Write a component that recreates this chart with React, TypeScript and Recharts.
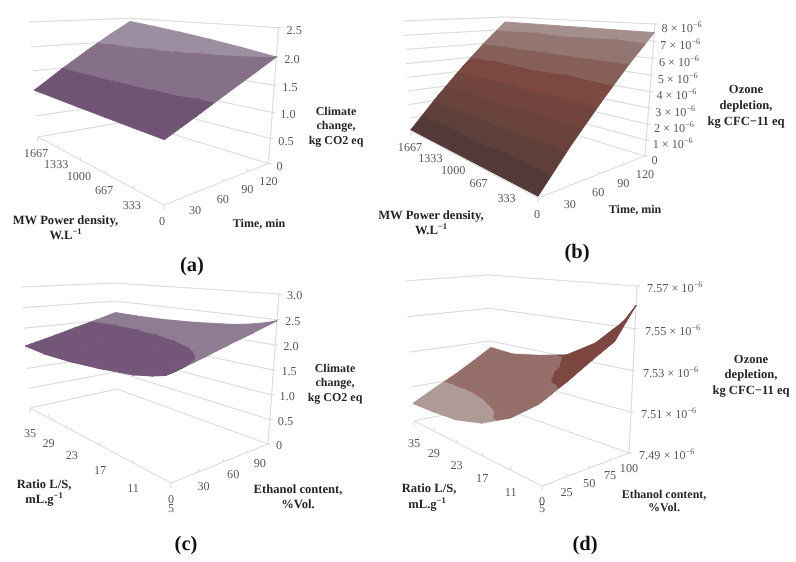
import { ComposedChart, Area, Line, Scatter, XAxis, YAxis } from "recharts";

type Pt = [number, number];

// panel (a) climate change vs time and MW power density
const timeLabels = [0, 30, 60, 90, 120];
const powerLabels = [0, 333, 667, 1000, 1333, 1667];
const climateTicksA = [0, 0.5, 1, 1.5, 2, 2.5];
const surfaceATime = [0, 30, 60, 90, 120];
const surfaceAPower = [0, 333, 667, 1000, 1333, 1667];
const surfaceAValues = [
  [1.13, 1.36, 1.59, 1.8, 2.0],
  [1.118, 1.389, 1.65, 1.886, 2.103],
  [1.107, 1.415, 1.705, 1.966, 2.198],
  [1.097, 1.439, 1.755, 2.038, 2.284],
  [1.088, 1.461, 1.8, 2.1, 2.361],
  [1.08, 1.48, 1.84, 2.16, 2.43],
];
const bandsA = [1, 1.5, 2, 2.5];
const coloursA = ["#6f5474", "#867089", "#9c8ea0"];

// panel (b) ozone depletion vs time and MW power density
const ozoneTicksB = [0, 1, 2, 3, 4, 5, 6, 7, 8];
const surfaceBTime = [0, 30, 60, 90, 120];
const surfaceBPower = [0, 833, 1667];
const surfaceBValues = [
  [0.1, 2.3, 4.26, 6.02, 7.5],
  [0.1, 2.3, 4.28, 6.05, 7.55],
  [0.1, 2.3, 4.3, 6.08, 7.6],
];
const bandsB = [0, 1, 2, 3, 4, 5, 6, 7, 8];
const coloursB = ["#533a38", "#5e3f3a", "#69423c", "#72443e", "#7c4840", "#875f59", "#937671", "#a58f8c"];

// panel (c) climate change vs ethanol content and L/S ratio
const ethanolLabelsC = [0, 30, 60, 90];
const ratioLabels = [5, 11, 17, 23, 29, 35];
const climateTicksC = [0, 0.5, 1, 1.5, 2, 2.5, 3];
const surfaceCEthanol = [0, 5, 10, 20, 30, 50, 75, 100];
const surfaceCRatio = [5, 6, 8, 11, 17, 23, 29, 35];
const surfaceCValues = [
  [1.94, 1.966, 1.992, 2.044, 2.096, 2.21, 2.34, 2.48],
  [1.86, 1.89, 1.915, 1.97, 2.025, 2.145, 2.28, 2.43],
  [1.78, 1.81, 1.836, 1.892, 1.948, 2.07, 2.21, 2.36],
  [1.69, 1.72, 1.75, 1.806, 1.864, 1.99, 2.135, 2.29],
  [1.6, 1.63, 1.66, 1.72, 1.78, 1.91, 2.06, 2.22],
  [1.54, 1.57, 1.6, 1.664, 1.726, 1.86, 2.015, 2.18],
  [1.52, 1.55, 1.584, 1.646, 1.71, 1.845, 2.0, 2.17],
  [1.56, 1.59, 1.62, 1.68, 1.74, 1.87, 2.02, 2.18],
];
const bandsC = [1.5, 2, 2.5];
const coloursC = ["#735678", "#8f7c93"];

// panel (d) ozone depletion vs ethanol content and L/S ratio
const ethanolLabelsD = [0, 25, 50, 75, 100];
const ozoneTicksD = [7.49, 7.51, 7.53, 7.55, 7.57];
const surfaceDEthanol = [0, 10, 25, 50, 75, 100];
const surfaceDRatio = [5, 6, 8, 11, 17, 23, 29, 35];
const surfaceDValues = [
  [7.5265, 7.529, 7.5326, 7.5394, 7.5458, 7.561],
  [7.524, 7.5275, 7.5315, 7.538, 7.5455, 7.5554],
  [7.52, 7.525, 7.53, 7.536, 7.543, 7.5497],
  [7.514, 7.519, 7.525, 7.531, 7.536, 7.541],
  [7.506, 7.509, 7.513, 7.519, 7.526, 7.531],
  [7.502, 7.505, 7.509, 7.515, 7.521, 7.5275],
  [7.5008, 7.5035, 7.507, 7.5135, 7.519, 7.525],
  [7.5003, 7.503, 7.507, 7.513, 7.5195, 7.526],
];
const bandsD = [7.49, 7.51, 7.53, 7.55, 7.57];
const coloursD = ["#ae9a96", "#966e69", "#7d4640", "#7a4540"];

const GRID = "#d9d9d9";
const SERIF = "'Liberation Serif', 'Times New Roman', serif";

type Caption = { x: number; y: number; text: string; sup?: string; size?: number };

type Panel = {
  id: string;
  rect: [number, number, number, number];
  // box corners on the page: F front, R right, L left, B back, floor then top
  floor: { F: Pt; R: Pt; L: Pt; B: Pt };
  top: { F: Pt; R: Pt; L: Pt; B: Pt };
  bow: [number, number, number];
  uRange: [number, number];
  vRange: [number, number];
  zRange: [number, number];
  uTicks: number[];
  vTicks: number[];
  zTicks: number[];
  uLabels: number[];
  vLabels: number[];
  uOffset: Pt;
  vOffset: Pt;
  zOffset: Pt;
  zText: (v: number) => { text: string; sup?: string };
  surfaceU: number[];
  surfaceV: number[];
  surfaceZ: number[][];
  bands: number[];
  colours: string[];
  captions: Caption[];
  letter: Caption;
};

const lerp = (a: number, b: number, t: number) => a + (b - a) * t;
const bowed = (t: number, k: number) => t + k * t * (1 - t);

function project(p: Panel, uVal: number, vVal: number, zVal: number): Pt {
  const u = bowed((uVal - p.uRange[0]) / (p.uRange[1] - p.uRange[0]), p.bow[0]);
  const v = bowed((vVal - p.vRange[0]) / (p.vRange[1] - p.vRange[0]), p.bow[1]);
  const w = bowed((zVal - p.zRange[0]) / (p.zRange[1] - p.zRange[0]), p.bow[2]);
  const face = (c: Panel["floor"], i: 0 | 1) =>
    lerp(lerp(c.F[i], c.R[i], u), lerp(c.L[i], c.B[i], u), v);
  return [lerp(face(p.floor, 0), face(p.top, 0), w), lerp(face(p.floor, 1), face(p.top, 1), w)];
}

type V = { x: number; y: number; z: number };

function clip(poly: V[], level: number, keepAbove: boolean): V[] {
  const out: V[] = [];
  poly.forEach((a, i) => {
    const b = poly[(i + 1) % poly.length];
    const aIn = keepAbove ? a.z >= level : a.z <= level;
    const bIn = keepAbove ? b.z >= level : b.z <= level;
    if (aIn) out.push(a);
    if (aIn !== bIn) {
      const t = (level - a.z) / (b.z - a.z);
      out.push({ x: lerp(a.x, b.x, t), y: lerp(a.y, b.y, t), z: level });
    }
  });
  return out;
}

// turn a convex polygon into the [low, high] table a range Area wants
function polygonToRange(poly: V[]) {
  const xs = Array.from(new Set(poly.map((q) => +q.x.toFixed(2)))).sort((a, b) => a - b);
  if (xs.length < 2) return [];
  return xs.map((x) => {
    const ys: number[] = [];
    poly.forEach((a, i) => {
      const b = poly[(i + 1) % poly.length];
      const ax = +a.x.toFixed(2);
      const bx = +b.x.toFixed(2);
      if (x >= Math.min(ax, bx) && x <= Math.max(ax, bx)) {
        ys.push(ax === bx ? a.y : lerp(a.y, b.y, (x - ax) / (bx - ax)));
        if (ax === bx) ys.push(b.y);
      }
    });
    return { x, range: [Math.min(...ys), Math.max(...ys)] };
  });
}

function surfacePieces(p: Panel) {
  const pieces: { colour: string; data: { x: number; range: number[] }[] }[] = [];
  const vert = (j: number, i: number): V => {
    const [x, y] = project(p, p.surfaceU[i], p.surfaceV[j], p.surfaceZ[j][i]);
    return { x, y, z: p.surfaceZ[j][i] };
  };
  // paint from the back corner towards the viewer
  for (let j = p.surfaceV.length - 2; j >= 0; j--) {
    for (let i = p.surfaceU.length - 2; i >= 0; i--) {
      const tris = [
        [vert(j + 1, i + 1), vert(j + 1, i), vert(j, i + 1)],
        [vert(j + 1, i), vert(j, i), vert(j, i + 1)],
      ];
      tris.forEach((tri) => {
        p.colours.forEach((colour, b) => {
          let poly = clip(tri, p.bands[b], true);
          if (poly.length) poly = clip(poly, p.bands[b + 1], false);
          if (poly.length < 3) return;
          const data = polygonToRange(poly);
          if (data.length) pieces.push({ colour, data });
        });
      });
    }
  }
  return pieces;
}

const segment = (a: Pt, b: Pt) => [
  { x: a[0], y: a[1] },
  { x: b[0], y: b[1] },
];

function frameLines(p: Panel) {
  const [u0, u1] = p.uRange;
  const [v0, v1] = p.vRange;
  const [z0, z1] = p.zRange;
  const lines: { x: number; y: number }[][] = [];
  // wall grid, one broken line per value tick
  p.zTicks.forEach((z) => {
    lines.push([project(p, u0, v1, z), project(p, u1, v1, z), project(p, u1, v0, z)].map(([x, y]) => ({ x, y })));
  });
  lines.push(segment(project(p, u0, v1, z0), project(p, u0, v0, z0)));
  lines.push(segment(project(p, u0, v0, z0), project(p, u1, v0, z0)));
  lines.push(segment(project(p, u1, v0, z0), project(p, u1, v0, z1)));
  // tick marks: the inner ones rise from the axis, the corner ones drop
  p.uTicks.forEach((u) => {
    const a = project(p, u, v0, z0);
    if (u === u1) return;
    lines.push(segment(a, [a[0], a[1] + (u === u0 ? 5 : -3)]));
  });
  p.vTicks.forEach((v) => {
    const a = project(p, u0, v, z0);
    lines.push(segment(a, [a[0], a[1] + (v === v1 ? 5 : v === v0 ? 0 : -3)]));
  });
  p.zTicks.forEach((z) => {
    const a = project(p, u1, v0, z);
    lines.push(segment(a, [a[0] + 3, a[1]]));
  });
  return lines;
}

function tickCaptions(p: Panel) {
  const out: (Caption & { anchor: string; weight: string; fill: string })[] = [];
  const plain = { anchor: "middle", weight: "normal", fill: "#595959", size: 12.2 };
  p.uLabels.forEach((u) => {
    const a = project(p, u, p.vRange[0], p.zRange[0]);
    out.push({ ...plain, x: a[0] + p.uOffset[0], y: a[1] + p.uOffset[1], text: String(u) });
  });
  p.vLabels.forEach((v) => {
    const a = project(p, p.uRange[0], v, p.zRange[0]);
    out.push({ ...plain, x: a[0] + p.vOffset[0], y: a[1] + p.vOffset[1], text: String(v) });
  });
  p.zTicks.forEach((z) => {
    const a = project(p, p.uRange[1], p.vRange[0], z);
    out.push({ ...plain, anchor: "start", x: a[0] + p.zOffset[0], y: a[1] + p.zOffset[1], ...p.zText(z) });
  });
  p.captions.forEach((c) => out.push({ size: 12.6, ...c, anchor: "middle", weight: "bold", fill: "#262626" }));
  out.push({ ...p.letter, anchor: "middle", weight: "bold", fill: "#111111" });
  return out;
}

function CaptionShape(props: any) {
  const { cx, cy, payload } = props;
  const d = payload ?? props;
  return (
    <text
      x={cx}
      y={cy}
      textAnchor={d.anchor}
      dominantBaseline="central"
      fontFamily={SERIF}
      fontSize={d.size}
      fontWeight={d.weight}
      fill={d.fill}
      textRendering="geometricPrecision"
    >
      {d.text}
      {d.sup && (
        <tspan dy={-4} fontSize={d.size * 0.68}>
          {d.sup}
        </tspan>
      )}
    </text>
  );
}

const plainNumber = (v: number) => ({ text: v === 0 ? "0" : v.toFixed(1) });

const panels: Panel[] = [
  {
    id: "a",
    rect: [0, 0, 372, 281],
    floor: { F: [164, 205], R: [268.5, 163.5], L: [38, 137], B: [130, 121] },
    top: { F: [165, 52], R: [278.5, 27.7], L: [29, 22], B: [130, 18.3] },
    bow: [0.25, 0.25, -0.1],
    uRange: [0, 120],
    vRange: [0, 1667],
    zRange: [0, 2.5],
    uTicks: timeLabels,
    vTicks: powerLabels,
    zTicks: climateTicksA,
    uLabels: timeLabels.slice(1),
    vLabels: powerLabels,
    uOffset: [0, 17],
    vOffset: [-2, 16],
    zOffset: [8, 2],
    zText: plainNumber,
    surfaceU: surfaceATime,
    surfaceV: surfaceAPower,
    surfaceZ: surfaceAValues,
    bands: bandsA,
    colours: coloursA,
    captions: [
      { x: 336, y: 111, text: "Climate", size: 12 },
      { x: 336, y: 125, text: "change,", size: 12 },
      { x: 336, y: 140, text: "kg CO2 eq", size: 12 },
      { x: 65.5, y: 220, text: "MW Power density," },
      { x: 65.5, y: 235, text: "W.L", sup: "−1" },
      { x: 259, y: 223, text: "Time, min", size: 12 },
    ],
    letter: { x: 192, y: 265, text: "(a)", size: 20.5 },
  },
  {
    id: "b",
    rect: [372, 0, 424, 268],
    floor: { F: [538, 198], R: [645, 156], L: [411, 131], B: [505, 113] },
    top: { F: [540, 48], R: [655, 24], L: [403, 21], B: [505, 17] },
    bow: [0.25, 0.25, -0.05],
    uRange: [0, 120],
    vRange: [0, 1667],
    zRange: [0, 8],
    uTicks: timeLabels,
    vTicks: powerLabels,
    zTicks: ozoneTicksB,
    uLabels: timeLabels.slice(1),
    vLabels: powerLabels,
    uOffset: [0, 18],
    vOffset: [-1, 16],
    zOffset: [6.5, 3.5],
    zText: (v) => (v === 0 ? { text: "0" } : { text: `${v} × 10`, sup: "−6" }),
    surfaceU: surfaceBTime,
    surfaceV: surfaceBPower,
    surfaceZ: surfaceBValues,
    bands: bandsB,
    colours: coloursB,
    captions: [
      { x: 746, y: 89, text: "Ozone" },
      { x: 746, y: 105, text: "depletion," },
      { x: 746, y: 121, text: "kg CFC−11 eq" },
      { x: 431, y: 215, text: "MW Power density," },
      { x: 431, y: 230, text: "W.L", sup: "−1" },
      { x: 635, y: 209, text: "Time, min", size: 12 },
    ],
    letter: { x: 577, y: 252, text: "(b)", size: 20.5 },
  },
  {
    id: "c",
    rect: [0, 281, 398, 281],
    floor: { F: [171, 483], R: [268, 444], L: [30, 408], B: [117, 389] },
    top: { F: [173, 311], R: [279, 294], L: [21, 287], B: [115, 283] },
    bow: [0.17, 0.43, -0.03],
    uRange: [0, 100],
    vRange: [5, 35],
    zRange: [0, 3],
    uTicks: [0, 25, 50, 75, 100],
    vTicks: ratioLabels,
    zTicks: climateTicksC,
    uLabels: ethanolLabelsC,
    vLabels: ratioLabels,
    uOffset: [0, 16],
    vOffset: [0, 25],
    zOffset: [8, 1],
    zText: plainNumber,
    surfaceU: surfaceCEthanol,
    surfaceV: surfaceCRatio,
    surfaceZ: surfaceCValues,
    bands: bandsC,
    colours: coloursC,
    captions: [
      { x: 335, y: 368, text: "Climate", size: 12 },
      { x: 335, y: 382, text: "change,", size: 12 },
      { x: 335, y: 397, text: "kg CO2 eq", size: 12 },
      { x: 44, y: 484, text: "Ratio L/S," },
      { x: 44, y: 499, text: "mL.g", sup: "−1" },
      { x: 298, y: 489, text: "Ethanol content," },
      { x: 298, y: 504, text: "%Vol." },
    ],
    letter: { x: 186, y: 544, text: "(c)", size: 20.5 },
  },
  {
    id: "d",
    rect: [398, 268, 398, 294],
    floor: { F: [542, 486], R: [629, 453], L: [414, 421], B: [493, 405] },
    top: { F: [545, 296], R: [637, 286], L: [405, 281], B: [488, 275] },
    bow: [0.17, 0.28, -0.03],
    uRange: [0, 100],
    vRange: [5, 35],
    zRange: [7.49, 7.57],
    uTicks: ethanolLabelsD,
    vTicks: ratioLabels,
    zTicks: ozoneTicksD,
    uLabels: ethanolLabelsD,
    vLabels: ratioLabels,
    uOffset: [0, 15],
    vOffset: [0, 22],
    zOffset: [10, 2],
    zText: (v) => ({ text: `${v.toFixed(2)} × 10`, sup: "−6" }),
    surfaceU: surfaceDEthanol,
    surfaceV: surfaceDRatio,
    surfaceZ: surfaceDValues,
    bands: bandsD,
    colours: coloursD,
    captions: [
      { x: 751, y: 359, text: "Ozone" },
      { x: 751, y: 374, text: "depletion," },
      { x: 751, y: 390, text: "kg CFC−11 eq" },
      { x: 429, y: 488, text: "Ratio L/S," },
      { x: 427, y: 504, text: "mL.g", sup: "−1" },
      { x: 664, y: 494, text: "Ethanol content,", size: 12 },
      { x: 664, y: 507, text: "%Vol.", size: 12 },
    ],
    letter: { x: 585, y: 544, text: "(d)", size: 20.5 },
  },
];

function PanelChart({ panel }: { panel: Panel }) {
  const [left, top, width, height] = panel.rect;
  return (
    <div style={{ position: "absolute", left, top, width, height }}>
      <ComposedChart width={width} height={height} margin={{ top: 0, right: 0, bottom: 0, left: 0 }}>
        <XAxis dataKey="x" type="number" domain={[left, left + width]} hide />
        <YAxis type="number" domain={[top, top + height]} reversed hide />
        {frameLines(panel).map((data, i) => (
          <Line
            key={`line-${i}`}
            data={data}
            dataKey="y"
            stroke={GRID}
            strokeWidth={1}
            dot={false}
            activeDot={false}
            isAnimationActive={false}
            zIndex={50}
          />
        ))}
        {surfacePieces(panel).map((piece, i) => (
          <Area
            key={`piece-${i}`}
            data={piece.data}
            dataKey="range"
            type="linear"
            fill={piece.colour}
            fillOpacity={1}
            stroke={piece.colour}
            strokeWidth={1}
            dot={false}
            activeDot={false}
            isAnimationActive={false}
          />
        ))}
        <Scatter data={tickCaptions(panel)} dataKey="y" shape={CaptionShape} isAnimationActive={false} />
      </ComposedChart>
    </div>
  );
}

export default function App() {
  return (
    <div
      style={{
        position: "absolute",
        left: 0,
        top: 0,
        width: 796,
        height: 562,
        background: "#fff",
        filter: "blur(0.3px)",
      }}
    >
      {panels.map((p) => (
        <PanelChart key={p.id} panel={p} />
      ))}
    </div>
  );
}
